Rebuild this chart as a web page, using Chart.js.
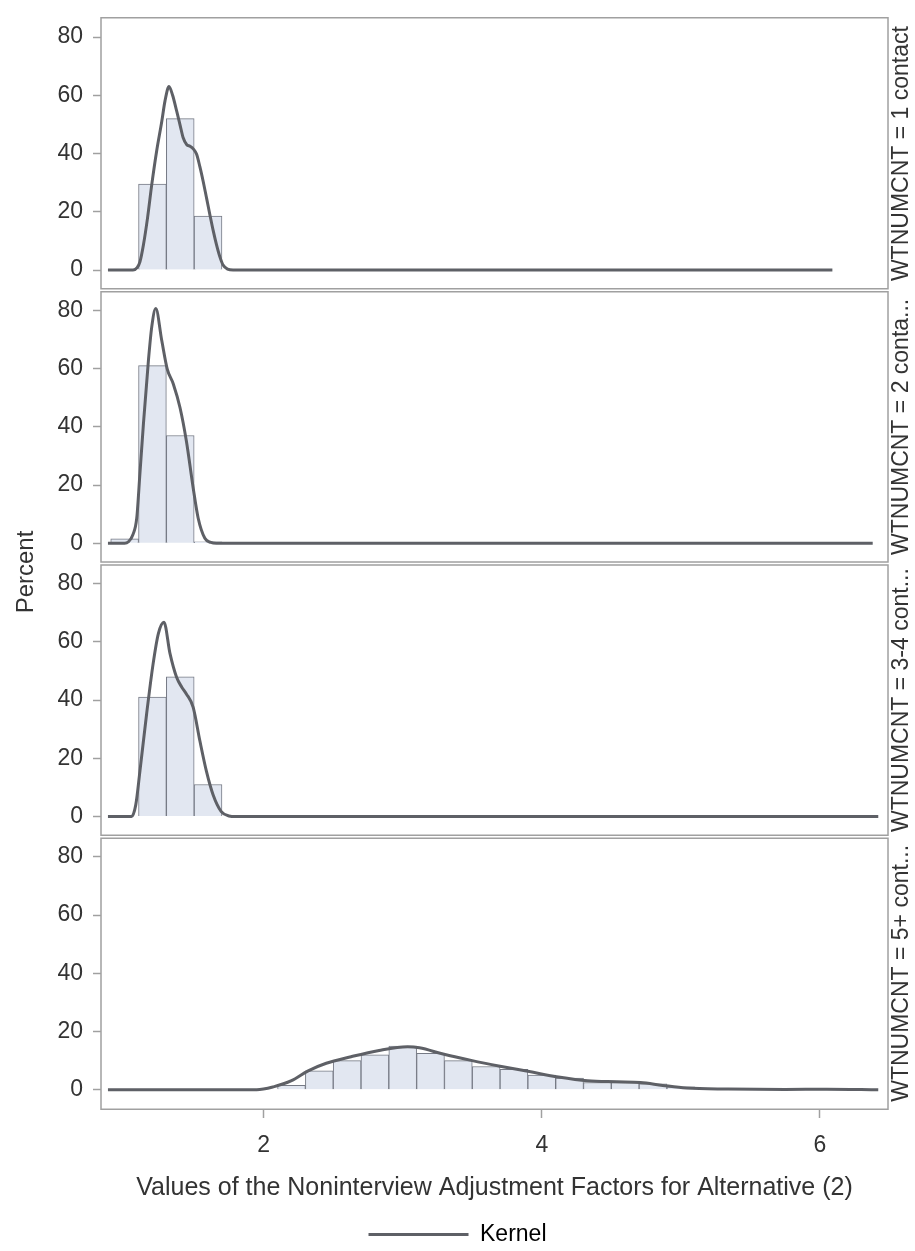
<!DOCTYPE html>
<html>
<head>
<meta charset="utf-8">
<script src="https://cdn.jsdelivr.net/npm/chart.js@4.4.0/dist/chart.umd.min.js"></script>
<style>
  html, body { margin: 0; padding: 0; background: #fff; }
  #wrap { position: relative; width: 915px; height: 1251px; }
</style>
</head>
<body>
<div id="wrap"><canvas id="chart" width="915" height="1251"></canvas></div>
<script>
// Histogram bins (bin centres, width 0.2) and percents per panel
const bins1 = [1.2, 1.4, 1.6];
const pct1 = [29.5, 52, 18.5];
const bins2 = [1.0, 1.2, 1.4, 1.6];
const pct2 = [1.5, 61, 37, 0.5];
const bins3 = [1.2, 1.4, 1.6];
const pct3 = [41, 48, 11];
const bins4 = [2.2, 2.4, 2.6, 2.8, 3.0, 3.2, 3.4, 3.6, 3.8, 4.0, 4.2, 4.4, 4.6, 4.8, 5.0, 5.2, 5.4, 5.6, 5.8, 6.0];
const pct4 = [1.5, 6.5, 10, 12, 15, 12.5, 10, 8, 7, 5, 4, 2.5, 2.5, 2, 1, 0.5, 0.3, 0.2, 0.2, 0.1];

// Kernel density curves
const kernX1 = [0.88, 1.06, 1.09, 1.11, 1.135, 1.165, 1.195, 1.23, 1.267, 1.29, 1.319, 1.345, 1.374, 1.40, 1.421, 1.447, 1.47, 1.495, 1.517, 1.541, 1.565, 1.59, 1.613, 1.637, 1.661, 1.685, 1.708, 1.74, 1.78, 6.09];
const kernY1 = [0, 0, 0.8, 2.8, 8.6, 18, 29.3, 40.8, 51, 58, 63, 60, 54.6, 49.5, 45.4, 43, 42.5, 41.5, 39.8, 35.5, 30.4, 24.5, 19, 13.5, 8.6, 4.5, 1.7, 0.3, 0, 0];
const kernX2 = [0.88, 1.0, 1.027, 1.06, 1.087, 1.11, 1.135, 1.171, 1.195, 1.224, 1.267, 1.306, 1.35, 1.398, 1.444, 1.493, 1.529, 1.577, 1.62, 1.66, 6.38];
const kernY2 = [0, 0, 0.5, 3, 8.6, 24, 40.9, 62.7, 74.3, 80.6, 69.6, 59.9, 54.7, 46.6, 35.1, 19, 8.6, 1.7, 0.3, 0, 0];
const kernX3 = [0.88, 1.05, 1.08, 1.11, 1.158, 1.205, 1.243, 1.283, 1.326, 1.373, 1.41, 1.444, 1.493, 1.541, 1.588, 1.636, 1.695, 1.75, 1.8, 6.42];
const kernY3 = [0, 0, 4, 15.6, 35.2, 52.5, 62.9, 66.7, 56, 47.9, 44.5, 42.1, 37.5, 26, 15.6, 7.5, 1.7, 0.2, 0, 0];
const kernX4 = [0.88, 1.95, 2.07, 2.2, 2.32, 2.45, 2.62, 2.83, 3.035, 3.12, 3.29, 3.5, 3.7, 3.91, 4.12, 4.33, 4.54, 4.71, 4.87, 5.04, 5.34, 5.75, 6.05, 6.42];
const kernY4 = [0, 0, 1, 3.1, 6.5, 9.1, 11.25, 13.5, 14.75, 14.4, 12.25, 10, 8.1, 6.25, 4.4, 3.1, 2.75, 2.5, 1.5, 0.6, 0.25, 0.1, 0.2, 0];

// Axis ticks and labels
const yTicks = [0, 20, 40, 60, 80];
const xTicks = [2, 4, 6];
const stripLabels = ['WTNUMCNT = 1 contact', 'WTNUMCNT = 2 conta...', 'WTNUMCNT = 3-4 cont...', 'WTNUMCNT = 5+ cont...'];
const xTitle = 'Values of the Noninterview Adjustment Factors for Alternative (2)';
const yTitle = 'Percent';
const legendText = 'Kernel';

const fontFamily = '"Liberation Sans", Arial, sans-serif';
const textColor = '#333333';
const frameColor = '#a0a0a0';
const barFill = '#e2e7f1';
const barBorder = '#767a85';
const kernelColor = '#5e6066';

const panels = [
    { bins: bins1, pct: pct1, kx: kernX1, ky: kernY1 },
    { bins: bins2, pct: pct2, kx: kernX2, ky: kernY2 },
    { bins: bins3, pct: pct3, kx: kernX3, ky: kernY3 },
    { bins: bins4, pct: pct4, kx: kernX4, ky: kernY4 }
];

// Build datasets: kernels first (drawn on top), then bars
const datasets = [];
panels.forEach((p, i) => {
    datasets.push({
        type: 'line',
        label: legendText,
        yAxisID: 'y' + (i + 1),
        data: p.kx.map((x, j) => ({ x: x, y: p.ky[j] })),
        borderColor: kernelColor,
        backgroundColor: kernelColor,
        borderWidth: 3,
        pointRadius: 0,
        cubicInterpolationMode: 'monotone',
        fill: false,
        order: 0
    });
});
panels.forEach((p, i) => {
    datasets.push({
        type: 'bar',
        label: 'Percent ' + (i + 1),
        yAxisID: 'y' + (i + 1),
        data: p.bins.map((b, j) => ({ x: b, y: p.pct[j] })),
        backgroundColor: barFill,
        borderColor: barBorder,
        borderWidth: 1,
        grouped: false,
        barPercentage: 1,
        categoryPercentage: 1,
        order: 1
    });
});

// One stacked y axis per panel
function panelAxis(i) {
    return {
        type: 'linear',
        position: 'left',
        stack: 'panels',
        weight: 4 - i,
        min: -6.95,
        max: 86.87,
        afterFit: function (scale) { scale.width = 101; },
        afterBuildTicks: function (scale) {
            scale.ticks = yTicks.map(v => ({ value: v }));
        },
        grid: { drawOnChartArea: false, drawTicks: true, tickLength: 8, tickColor: frameColor, tickWidth: 1.5 },
        border: { display: false },
        // small lineHeight keeps the label padding from pushing the plot down
        ticks: { font: { size: 23, family: fontFamily, lineHeight: 0.6 }, color: textColor, padding: 10 }
    };
}

// Frames, strip labels and the shared y title
const panelPlugin = {
    id: 'panelFrames',
    beforeDatasetsDraw(chart) {
        const ctx = chart.ctx;
        const area = chart.chartArea;
        ctx.save();
        ctx.strokeStyle = frameColor;
        ctx.lineWidth = 1.5;
        for (let i = 1; i <= 4; i++) {
            const s = chart.scales['y' + i];
            const top = s.top + (i === 1 ? 0.75 : 1.5);
            const bottom = s.bottom - (i === 4 ? 0.75 : 1.5);
            ctx.strokeRect(area.left, top, area.right - area.left, bottom - top);
        }
        ctx.restore();
    },
    afterDraw(chart) {
        const ctx = chart.ctx;
        const area = chart.chartArea;
        ctx.save();
        ctx.fillStyle = textColor;
        ctx.textAlign = 'center';
        ctx.textBaseline = 'middle';
        ctx.font = '23px ' + fontFamily;
        for (let i = 1; i <= 4; i++) {
            const s = chart.scales['y' + i];
            ctx.save();
            ctx.translate(area.right + 14, (s.top + s.bottom) / 2);
            ctx.rotate(-Math.PI / 2);
            ctx.fillText(stripLabels[i - 1], 0, 0);
            ctx.restore();
        }
        ctx.font = '24px ' + fontFamily;
        ctx.translate(26, 572);
        ctx.rotate(-Math.PI / 2);
        ctx.fillText(yTitle, 0, 0);
        ctx.restore();
    }
};

const scales = {
    x: {
        type: 'linear',
        min: 0.83,
        max: 6.49,
        offset: false,
        afterFit: function (scale) { scale.height = 113; },
        afterBuildTicks: function (scale) {
            scale.ticks = xTicks.map(v => ({ value: v }));
        },
        grid: { offset: false, drawOnChartArea: false, drawTicks: true, tickLength: 8, tickColor: frameColor, tickWidth: 1.5 },
        border: { display: false },
        ticks: { font: { size: 23, family: fontFamily }, color: textColor, padding: 14 },
        title: { display: true, text: xTitle, color: textColor, font: { size: 25, family: fontFamily }, padding: { top: 0, bottom: 20 } }
    },
    // empty right axis reserves the strip-label column
    strip: {
        type: 'linear',
        position: 'right',
        min: 0,
        max: 1,
        afterFit: function (scale) { scale.width = 27; },
        grid: { display: false },
        border: { display: false },
        ticks: { display: false }
    }
};
for (let i = 0; i < 4; i++) scales['y' + (i + 1)] = panelAxis(i);

new Chart(document.getElementById('chart'), {
    type: 'bar',
    data: { datasets: datasets },
    options: {
        responsive: false,
        animation: false,
        layout: { padding: { top: 17, right: 0, bottom: -5, left: 0 } },
        scales: scales,
        plugins: {
            legend: {
                position: 'bottom',
                labels: {
                    boxWidth: 100,
                    boxHeight: 3,
                    padding: 0,
                    color: textColor,
                    font: { size: 23, family: fontFamily },
                    generateLabels: function () {
                        return [{ text: legendText, fillStyle: kernelColor, strokeStyle: kernelColor, lineWidth: 0, datasetIndex: 0 }];
                    }
                }
            },
            tooltip: { enabled: false }
        }
    },
    plugins: [panelPlugin]
});
</script>
</body>
</html>
